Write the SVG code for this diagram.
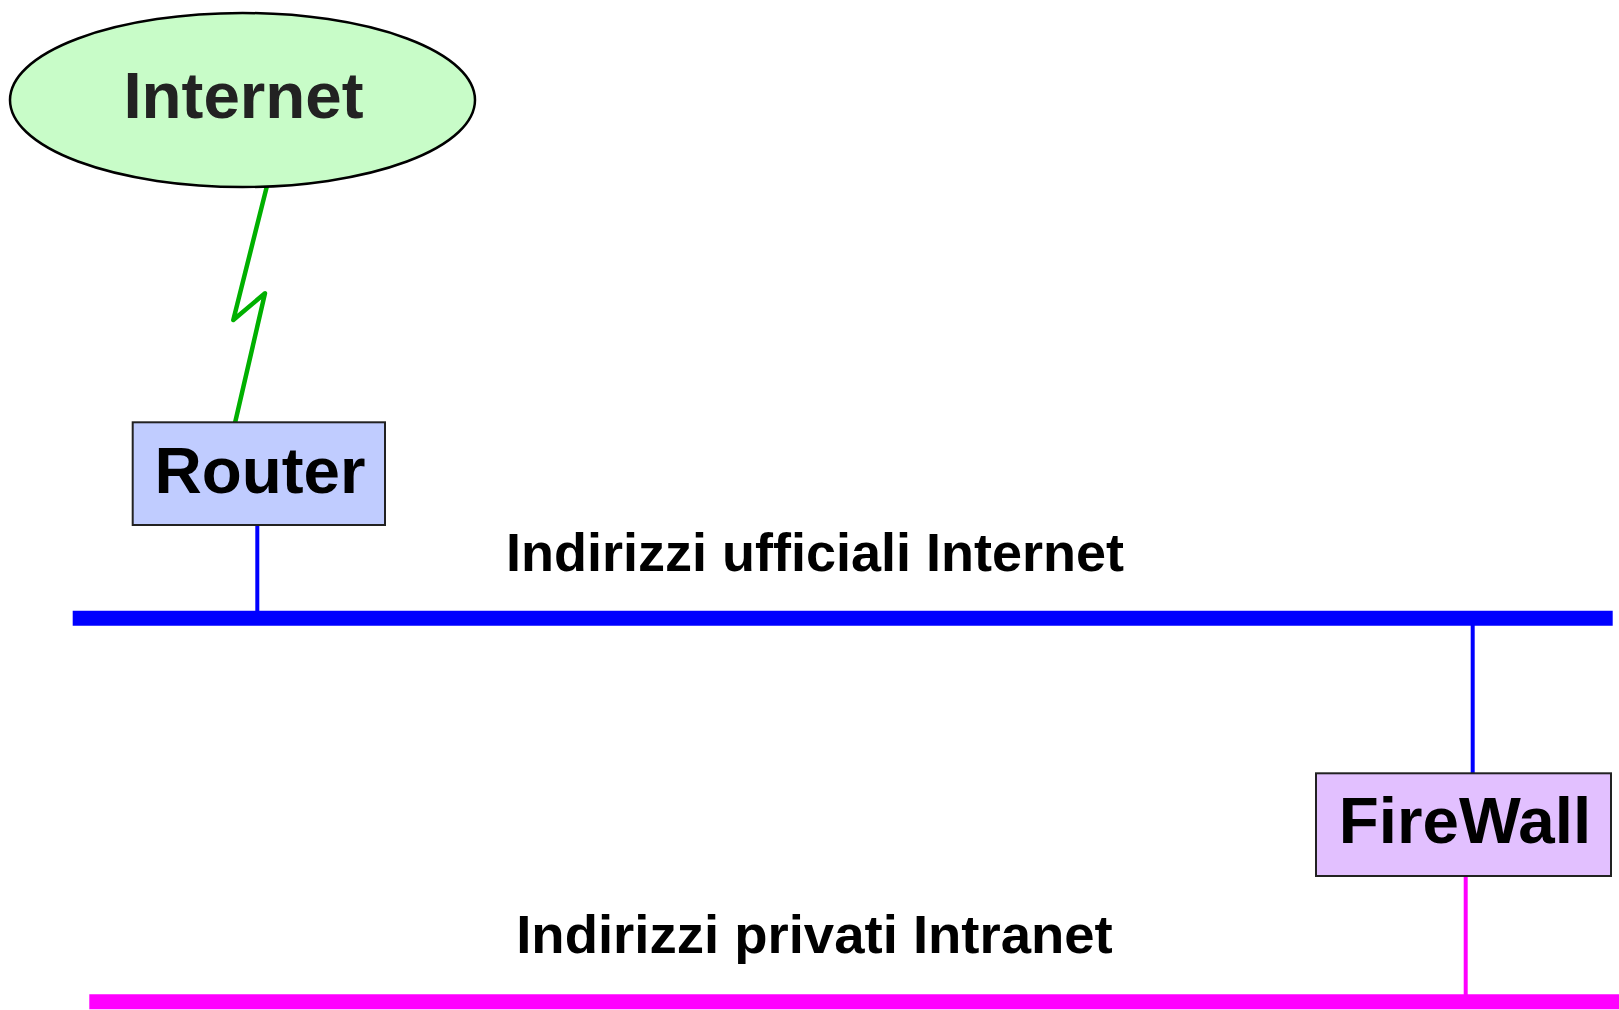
<svg xmlns="http://www.w3.org/2000/svg" width="1619" height="1010" viewBox="0 0 1619 1010">
  <style>
    .label { font-family: "Liberation Sans", Arial, sans-serif; font-weight: bold; text-anchor: middle; }
    .node-text { font-size: 65.5px; }
    .net-text { font-size: 54px; fill: #000; }
    .box { stroke: #222; stroke-width: 2; }
  </style>
  <rect width="1619" height="1010" fill="#ffffff"/>

  <!-- connectors and network segments -->
  <g id="connectors" fill="none">
    <polyline id="link-internet-router" points="266.7,187 233.3,320 265,293.3 235,423" stroke="#00b000" stroke-width="4.5" stroke-linejoin="round" stroke-linecap="round"/>
    <line id="drop-router" x1="257.3" y1="525" x2="257.3" y2="612" stroke="#0000ff" stroke-width="4"/>
    <line id="bus-public" x1="72.7" y1="618.2" x2="1612.7" y2="618.2" stroke="#0000ff" stroke-width="15"/>
    <line id="drop-firewall-up" x1="1472.7" y1="624" x2="1472.7" y2="773" stroke="#0000ff" stroke-width="4"/>
    <line id="drop-firewall-down" x1="1465.7" y1="876" x2="1465.7" y2="996" stroke="#ff00ff" stroke-width="4"/>
    <line id="bus-private" x1="89.3" y1="1001.8" x2="1619" y2="1001.8" stroke="#ff00ff" stroke-width="15"/>
  </g>

  <g id="internet">
    <ellipse cx="242.5" cy="100" rx="232.5" ry="87" fill="#c8fcc8" stroke="#000" stroke-width="2.5"/>
    <text class="label node-text" x="243.5" y="118" fill="#222">Internet</text>
  </g>

  <g id="router">
    <rect class="box" x="132.7" y="422.3" width="252.3" height="102.7" fill="#c0ccff"/>
    <text class="label node-text" x="260" y="492.7" fill="#000">Router</text>
  </g>

  <g id="firewall">
    <rect class="box" x="1316" y="773.3" width="295" height="102.7" fill="#e2c0ff"/>
    <text class="label node-text" x="1465" y="843.3" fill="#000">FireWall</text>
  </g>

  <g id="label-public">
    <text class="label net-text" x="815" y="570.7">Indirizzi ufficiali Internet</text>
  </g>

  <g id="label-private">
    <text class="label net-text" x="814.5" y="953.3" style="font-size:54.5px">Indirizzi privati Intranet</text>
  </g>
</svg>
